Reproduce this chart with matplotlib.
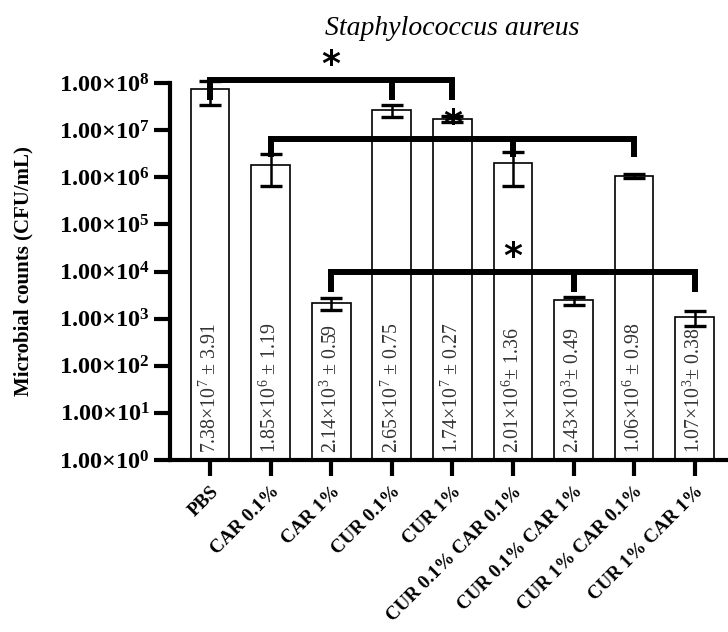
import numpy as np
import matplotlib
matplotlib.use("Agg")
import matplotlib.pyplot as plt
from matplotlib.ticker import FixedLocator, FixedFormatter, NullLocator

plt.rcParams['font.family'] = ['Liberation Serif', 'DejaVu Serif']
plt.rcParams['mathtext.fontset'] = 'custom'
plt.rcParams['mathtext.rm'] = 'Liberation Serif'
plt.rcParams['mathtext.it'] = 'Liberation Serif:italic'
plt.rcParams['mathtext.bf'] = 'Liberation Serif:bold'

# ---- data ----
groups = ['PBS', 'CAR 0.1%', 'CAR 1%', 'CUR 0.1%', 'CUR 1%',
          'CUR 0.1% CAR 0.1%', 'CUR 0.1% CAR 1%', 'CUR 1% CAR 0.1%', 'CUR 1% CAR 1%']
means = [7.38e7, 1.85e6, 2.14e3, 2.65e7, 1.74e7, 2.01e6, 2.43e3, 1.06e6, 1.07e3]
sds = [3.91e7, 1.19e6, 0.59e3, 0.75e7, 0.27e7, 1.36e6, 0.49e3, 0.98e5, 0.38e3]
bar_labels = [r'$7.38{\times}10^{7}$ ± 3.91', r'$1.85{\times}10^{6}$ ± 1.19',
              r'$2.14{\times}10^{3}$ ± 0.59', r'$2.65{\times}10^{7}$ ± 0.75',
              r'$1.74{\times}10^{7}$ ± 0.27', r'$2.01{\times}10^{6}$± 1.36',
              r'$2.43{\times}10^{3}$± 0.49', r'$1.06{\times}10^{6}$ ± 0.98',
              r'$1.07{\times}10^{3}$± 0.38']
ytick_exp = [0, 1, 2, 3, 4, 5, 6, 7, 8]
ytick_labels = [r'$\mathbf{1.00{\times}10^{%d}}$' % e for e in ytick_exp]

# significance brackets: (bar indices, line level, leg end level) in log10 units
brackets = [([0, 3, 4], 8.07, 7.63),
            ([1, 5, 7], 6.82, 6.43),
            ([2, 6, 8], 3.99, 3.57)]
star_gap = 0.53

W, H = 728, 632
fig = plt.figure(figsize=(W / 100, H / 100), dpi=100)
ax = fig.add_axes([170 / W, 1 - 460 / H, (W - 170) / W, (460 - 83) / H])

x = np.arange(len(groups))
ax.set_yscale('log')
ax.bar(x, np.array(means) - 1, bottom=1, width=0.64, color='white',
       edgecolor='black', linewidth=1.2, zorder=2)
ax.errorbar(x, means, yerr=sds, fmt='none', ecolor='black', elinewidth=1.8,
            capsize=8, capthick=2.4, zorder=3, clip_on=False)

for xi, lab in zip(x, bar_labels):
    ax.annotate(lab, xy=(xi, 1), xytext=(0, 5), textcoords='offset points',
                rotation=90, ha='center', va='bottom', fontsize=14.3,
                color='#333333', zorder=4)

for idx, top, leg in brackets:
    x0, x1 = idx[0], idx[-1]
    ax.plot([x0, x0, x1, x1], [10 ** leg, 10 ** top, 10 ** top, 10 ** leg],
            color='black', lw=4.3, solid_joinstyle='miter', solid_capstyle='butt',
            clip_on=False, zorder=5)
    for m in idx[1:-1]:
        ax.plot([m, m], [10 ** top, 10 ** leg], color='black', lw=4.3,
                solid_capstyle='butt', clip_on=False, zorder=5)
    fs = 26
    ax.annotate('*', xy=((x0 + x1) / 2, 10 ** (top + star_gap)),
                xytext=(0, -0.56 * fs), textcoords='offset points',
                ha='center', va='baseline', fontsize=fs, fontweight='bold',
                family='DejaVu Sans', annotation_clip=False, zorder=6)

ax.set_xlim(-0.66, 8.55)
ax.set_ylim(1, 1e8)
ax.yaxis.set_major_locator(FixedLocator([10.0 ** e for e in ytick_exp]))
ax.yaxis.set_major_formatter(FixedFormatter(ytick_labels))
ax.yaxis.set_minor_locator(NullLocator())
ax.set_xticks(x)
ax.set_xticklabels(groups, rotation=45, ha='right', rotation_mode='anchor',
                   fontweight='bold', fontsize=13.8)
ax.tick_params(axis='y', labelsize=17.5, length=11.5, width=3, pad=3)
ax.tick_params(axis='x', length=11.5, width=3, pad=5)

for s in ['top', 'right']:
    ax.spines[s].set_visible(False)
for s in ['left', 'bottom']:
    ax.spines[s].set_linewidth(3)

ax.set_ylabel('Microbial counts (CFU/mL)', fontsize=15, fontweight='bold')
ax.yaxis.set_label_coords(-0.245, 0.5)

fig.text(452 / W, 1 - 35 / H, 'Staphylococcus aureus', ha='center',
         va='baseline', fontsize=20, style='italic')

fig.savefig('out.png', dpi=100)
